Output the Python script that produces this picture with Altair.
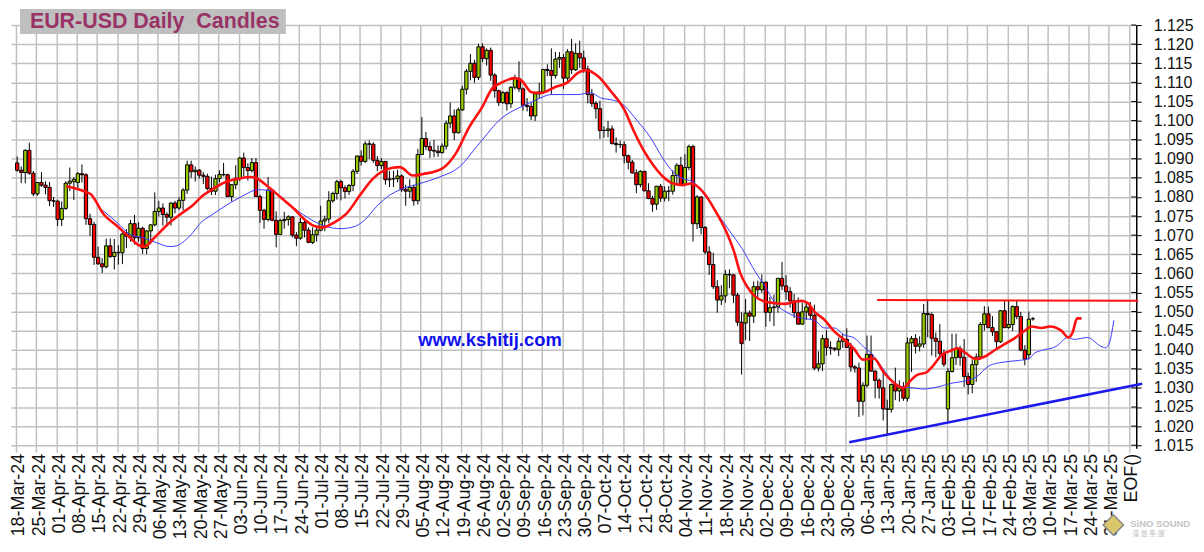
import altair as alt
import pandas as pd

TITLE = "EUR-USD Daily\u00a0\u00a0Candles"

week_labels = ["18-Mar-24","25-Mar-24","01-Apr-24","08-Apr-24","15-Apr-24","22-Apr-24","29-Apr-24",
 "06-May-24","13-May-24","20-May-24","27-May-24","03-Jun-24","10-Jun-24","17-Jun-24","24-Jun-24",
 "01-Jul-24","08-Jul-24","15-Jul-24","22-Jul-24","29-Jul-24","05-Aug-24","12-Aug-24","19-Aug-24",
 "26-Aug-24","02-Sep-24","09-Sep-24","16-Sep-24","23-Sep-24","30-Sep-24","07-Oct-24","14-Oct-24",
 "21-Oct-24","28-Oct-24","04-Nov-24","11-Nov-24","18-Nov-24","25-Nov-24","02-Dec-24","09-Dec-24",
 "16-Dec-24","23-Dec-24","30-Dec-24","06-Jan-25","13-Jan-25","20-Jan-25","27-Jan-25","03-Feb-25",
 "10-Feb-25","17-Feb-25","24-Feb-25","03-Mar-25","10-Mar-25","17-Mar-25","24-Mar-25","31-Mar-25","EOF()"]

# daily candles (one per weekday, 18-Mar-24 .. 04-Mar-25)
open_px = [
 1.0889,1.0870,1.0864,1.0922,1.0862, 1.0808,1.0838,1.0831,1.0825,1.0790,
 1.0789,1.0741,1.0770,1.0836,1.0840, 1.0838,1.0861,1.0858,1.0743,1.0728,
 1.0642,1.0625,1.0617,1.0672,1.0644, 1.0655,1.0654,1.0703,1.0697,1.0730,
 1.0693,1.0718,1.0665,1.0711,1.0727, 1.0762,1.0771,1.0754,1.0747,1.0784,
 1.0771,1.0791,1.0818,1.0884,1.0866, 1.0870,1.0857,1.0854,1.0822,1.0815,
 1.0848,1.0859,1.0858,1.0801,1.0832, 1.0849,1.0902,1.0877,1.0869,1.0890,
 1.0801,1.0765,1.0741,1.0818,1.0739, 1.0702,1.0738,1.0741,1.0748,1.0700,
 1.0692,1.0733,1.0713,1.0681,1.0701, 1.0713,1.0737,1.0742,1.0790,1.0809,
 1.0840,1.0824,1.0814,1.0830,1.0867, 1.0907,1.0893,1.0939,1.0938,1.0896,
 1.0882,1.0893,1.0845,1.0847,1.0848, 1.0855,1.0819,1.0815,1.0825,1.0790,
 1.0911,1.0953,1.0932,1.0922,1.0920, 1.0916,1.0933,1.0993,1.1012,1.0968,
 1.1028,1.1082,1.1129,1.1150,1.1113, 1.1193,1.1162,1.1184,1.1119,1.1078,
 1.1047,1.1073,1.1044,1.1087,1.1110, 1.1083,1.1040,1.1037,1.1012,1.1070,
 1.1075,1.1134,1.1131,1.1118,1.1161, 1.1165,1.1111,1.1180,1.1133,1.1176,
 1.1164,1.1135,1.1068,1.1045,1.1031, 1.0974,1.0974,1.0978,1.0940,1.0937,
 1.0937,1.0908,1.0891,1.0863,1.0832, 1.0867,1.0816,1.0796,1.0781,1.0828,
 1.0797,1.0815,1.0815,1.0856,1.0883, 1.0833,1.0877,1.0932,1.0730,1.0800,
 1.0720,1.0656,1.0623,1.0565,1.0530, 1.0541,1.0597,1.0596,1.0543,1.0472,
 1.0470,1.0496,1.0488,1.0565,1.0557, 1.0577,1.0498,1.0510,1.0512,1.0587,
 1.0567,1.0552,1.0528,1.0497,1.0467, 1.0499,1.0512,1.0490,1.0352,1.0363,
 1.0429,1.0406,1.0404,1.0401,1.0422, 1.0427,1.0406,1.0355,1.0352,1.0265,
 1.0307,1.0388,1.0344,1.0320,1.0300, 1.0245,1.0244,1.0309,1.0292,1.0300,
 1.0273,1.0418,1.0429,1.0409,1.0415, 1.0495,1.0492,1.0430,1.0422,1.0390,
 1.0245,1.0343,1.0379,1.0403,1.0380, 1.0330,1.0309,1.0361,1.0381,1.0466,
 1.0494,1.0458,1.0447,1.0421,1.0502, 1.0458,1.0466,1.0513,1.0487,1.0399,
 1.0387,1.0481]
high_px = [
 1.0906,1.0880,1.0925,1.0942,1.0868, 1.0838,1.0865,1.0841,1.0839,1.0800,
 1.0793,1.0788,1.0841,1.0877,1.0852, 1.0865,1.0885,1.0862,1.0756,1.0735,
 1.0670,1.0640,1.0691,1.0691,1.0690, 1.0674,1.0713,1.0716,1.0740,1.0753,
 1.0734,1.0722,1.0712,1.0728,1.0812, 1.0790,1.0783,1.0760,1.0786,1.0790,
 1.0799,1.0823,1.0895,1.0895,1.0880, 1.0873,1.0865,1.0861,1.0853,1.0858,
 1.0870,1.0889,1.0861,1.0834,1.0883, 1.0905,1.0916,1.0888,1.0902,1.0902,
 1.0806,1.0769,1.0852,1.0821,1.0762, 1.0743,1.0761,1.0752,1.0748,1.0708,
 1.0745,1.0739,1.0720,1.0720,1.0719, 1.0777,1.0751,1.0815,1.0814,1.0845,
 1.0845,1.0830,1.0834,1.0873,1.0909, 1.0922,1.0946,1.0948,1.0943,1.0907,
 1.0902,1.0894,1.0868,1.0869,1.0871, 1.0859,1.0832,1.0846,1.0832,1.0926,
 1.1009,1.0970,1.0945,1.0949,1.0935, 1.0940,1.1000,1.1047,1.1029,1.1034,
 1.1091,1.1135,1.1174,1.1159,1.1201, 1.1202,1.1189,1.1191,1.1124,1.1081,
 1.1077,1.1077,1.1090,1.1120,1.1155, 1.1087,1.1059,1.1046,1.1072,1.1099,
 1.1135,1.1147,1.1189,1.1180,1.1179, 1.1174,1.1187,1.1214,1.1202,1.1209,
 1.1183,1.1144,1.1083,1.1050,1.1052, 1.0985,1.0999,1.0987,1.0956,1.0947,
 1.0945,1.0911,1.0897,1.0872,1.0870, 1.0868,1.0836,1.0803,1.0829,1.0834,
 1.0828,1.0829,1.0870,1.0888,1.0905, 1.0912,1.0937,1.0937,1.0805,1.0802,
 1.0724,1.0671,1.0654,1.0582,1.0569, 1.0609,1.0610,1.0598,1.0549,1.0498,
 1.0533,1.0503,1.0579,1.0581,1.0597, 1.0578,1.0538,1.0544,1.0588,1.0630,
 1.0595,1.0564,1.0546,1.0537,1.0523, 1.0526,1.0525,1.0518,1.0396,1.0439,
 1.0451,1.0422,1.0406,1.0432,1.0443, 1.0456,1.0418,1.0360,1.0366,1.0315,
 1.0437,1.0437,1.0346,1.0325,1.0343, 1.0269,1.0312,1.0353,1.0320,1.0315,
 1.0432,1.0436,1.0441,1.0435,1.0520, 1.0533,1.0498,1.0445,1.0467,1.0400,
 1.0352,1.0442,1.0442,1.0410,1.0428, 1.0340,1.0375,1.0390,1.0472,1.0514,
 1.0513,1.0488,1.0449,1.0504,1.0528, 1.0528,1.0516,1.0528,1.0499,1.0412,
 1.0500,1.0486]
low_px = [
 1.0866,1.0836,1.0836,1.0858,1.0802, 1.0803,1.0826,1.0807,1.0776,1.0774,
 1.0724,1.0724,1.0766,1.0815,1.0792, 1.0820,1.0838,1.0727,1.0698,1.0622,
 1.0622,1.0601,1.0613,1.0640,1.0610, 1.0623,1.0624,1.0666,1.0683,1.0675,
 1.0682,1.0651,1.0650,1.0676,1.0723, 1.0749,1.0725,1.0723,1.0725,1.0757,
 1.0766,1.0765,1.0808,1.0850,1.0840, 1.0848,1.0834,1.0817,1.0805,1.0805,
 1.0838,1.0854,1.0800,1.0788,1.0820, 1.0841,1.0853,1.0843,1.0864,1.0800,
 1.0732,1.0717,1.0736,1.0736,1.0668, 1.0702,1.0717,1.0725,1.0694,1.0671,
 1.0688,1.0694,1.0679,1.0677,1.0683, 1.0710,1.0710,1.0731,1.0785,1.0793,
 1.0791,1.0796,1.0805,1.0815,1.0860, 1.0882,1.0889,1.0899,1.0889,1.0868,
 1.0873,1.0832,1.0826,1.0826,1.0838, 1.0813,1.0777,1.0797,1.0777,1.0780,
 1.0910,1.0923,1.0902,1.0904,1.0905, 1.0914,1.0924,1.0980,1.0949,1.0966,
 1.1025,1.1068,1.1105,1.1099,1.1106, 1.1153,1.1144,1.1104,1.1060,1.1038,
 1.1044,1.1026,1.1033,1.1081,1.1075, 1.1026,1.1024,1.1001,1.0999,1.1057,
 1.1070,1.1116,1.1068,1.1110,1.1138, 1.1083,1.1104,1.1122,1.1130,1.1138,
 1.1125,1.1045,1.1036,1.1005,1.0952, 1.0955,1.0956,1.0937,1.0916,1.0928,
 1.0888,1.0872,1.0861,1.0810,1.0825, 1.0815,1.0794,1.0761,1.0766,1.0787,
 1.0788,1.0789,1.0806,1.0834,1.0832, 1.0830,1.0870,1.0683,1.0716,1.0702,
 1.0650,1.0596,1.0559,1.0497,1.0517, 1.0523,1.0561,1.0522,1.0462,1.0335,
 1.0425,1.0423,1.0470,1.0537,1.0549, 1.0460,1.0474,1.0462,1.0497,1.0556,
 1.0531,1.0510,1.0483,1.0466,1.0465, 1.0478,1.0480,1.0346,1.0343,1.0344,
 1.0385,1.0387,1.0396,1.0383,1.0405, 1.0405,1.0342,1.0340,1.0224,1.0228,
 1.0301,1.0342,1.0273,1.0272,1.0215, 1.0177,1.0235,1.0268,1.0264,1.0266,
 1.0265,1.0342,1.0390,1.0396,1.0405, 1.0433,1.0385,1.0380,1.0380,1.0355,
 1.0211,1.0340,1.0360,1.0358,1.0302, 1.0283,1.0286,1.0316,1.0374,1.0450,
 1.0456,1.0436,1.0402,1.0418,1.0456, 1.0455,1.0449,1.0480,1.0396,1.0359,
 1.0375,1.0476]
close_px = [
 1.0870,1.0864,1.0922,1.0862,1.0808, 1.0838,1.0831,1.0825,1.0790,1.0789,
 1.0741,1.0770,1.0836,1.0841,1.0846, 1.0861,1.0858,1.0743,1.0728,1.0642,
 1.0625,1.0617,1.0672,1.0644,1.0655, 1.0654,1.0703,1.0697,1.0730,1.0693,
 1.0718,1.0665,1.0711,1.0727,1.0762, 1.0771,1.0754,1.0747,1.0784,1.0771,
 1.0791,1.0818,1.0884,1.0866,1.0870, 1.0857,1.0854,1.0822,1.0815,1.0848,
 1.0859,1.0858,1.0801,1.0832,1.0849, 1.0902,1.0877,1.0869,1.0890,1.0801,
 1.0765,1.0741,1.0818,1.0739,1.0702, 1.0738,1.0741,1.0748,1.0700,1.0692,
 1.0733,1.0713,1.0681,1.0701,1.0713, 1.0737,1.0742,1.0790,1.0809,1.0840,
 1.0824,1.0814,1.0830,1.0867,1.0907, 1.0893,1.0939,1.0938,1.0896,1.0882,
 1.0893,1.0845,1.0847,1.0848,1.0855, 1.0819,1.0815,1.0825,1.0790,1.0911,
 1.0953,1.0932,1.0922,1.0920,1.0916, 1.0933,1.0993,1.1012,1.0968,1.1028,
 1.1082,1.1129,1.1150,1.1113,1.1193, 1.1162,1.1184,1.1119,1.1078,1.1047,
 1.1073,1.1044,1.1087,1.1110,1.1083, 1.1040,1.1037,1.1012,1.1070,1.1075,
 1.1134,1.1131,1.1118,1.1161,1.1165, 1.1111,1.1180,1.1133,1.1176,1.1164,
 1.1135,1.1068,1.1045,1.1031,1.0974, 1.0974,1.0978,1.0940,1.0937,1.0937,
 1.0908,1.0891,1.0863,1.0832,1.0867, 1.0816,1.0796,1.0781,1.0828,1.0797,
 1.0815,1.0815,1.0856,1.0883,1.0833, 1.0877,1.0932,1.0730,1.0800,1.0720,
 1.0656,1.0623,1.0565,1.0530,1.0541, 1.0597,1.0596,1.0543,1.0472,1.0416,
 1.0496,1.0488,1.0565,1.0557,1.0577, 1.0498,1.0510,1.0512,1.0587,1.0567,
 1.0552,1.0528,1.0497,1.0467,1.0499, 1.0512,1.0490,1.0352,1.0363,1.0429,
 1.0406,1.0404,1.0401,1.0422,1.0427, 1.0406,1.0355,1.0352,1.0265,1.0307,
 1.0388,1.0344,1.0320,1.0300,1.0245, 1.0244,1.0309,1.0292,1.0300,1.0273,
 1.0418,1.0429,1.0409,1.0415,1.0495, 1.0492,1.0430,1.0422,1.0390,1.0362,
 1.0343,1.0379,1.0403,1.0380,1.0330, 1.0309,1.0361,1.0381,1.0466,1.0494,
 1.0458,1.0447,1.0421,1.0502,1.0458, 1.0466,1.0513,1.0487,1.0399,1.0375,
 1.0480,1.0481]

# moving averages (bar index, value)
red_ma_i = [12.1,16.5,18.2,21.4,24.7,27.9,30.4,31.5,33.6,37.7,40.9,43.4,45.8,48.2,51.5,54.8,57.6,58.8,
 62.1,65.3,68.6,71.0,73.4,75.5,78.3,81.6,84.8,88.1,90.5,92.5,94.6,97.8,100.3,105.1,108.4,111.7,114.9,
 117.3,119.8,123.0,124.7,127.1,129.5,132.8,136.0,138.5,140.5,143.4,146.6,149.9,152.3,154.8,157.2,159.6,
 162.1,164.5,166.5,169.8,172.6,175.1,177.1,178.7,180.4,182.4,184.8,187.3,189.7,192.1,193.8,195.4,197.0,
 199.5,201.9,204.3,206.8,209.0,211.7,214.1,216.5,218.9,220.6,222.2,224.7,226.3,228.7,230.4,232.4,234.4,
 236.9,239.3,241.7,244.2,246.6,249.0,250.7,253.1,255.2,258.0,259.8,260.8,261.9,263.0]
red_ma_v = [1.0828,1.0815,1.0807,1.0754,1.0724,1.0693,1.0672,1.0670,1.0690,1.0733,1.0759,1.0778,1.0803,1.0820,
 1.0839,1.0848,1.0852,1.0850,1.0826,1.0797,1.0767,1.0741,1.0724,1.0720,1.0733,1.0759,1.0806,1.0850,1.0868,
 1.0876,1.0878,1.0856,1.0860,1.0875,1.0914,1.0983,1.1035,1.1083,1.1100,1.1111,1.1104,1.1074,1.1072,1.1087,
 1.1100,1.1124,1.1132,1.1117,1.1078,1.1031,1.0974,1.0922,1.0883,1.0853,1.0835,1.0831,1.0835,1.0809,1.0762,
 1.0712,1.0658,1.0600,1.0565,1.0539,1.0526,1.0522,1.0520,1.0526,1.0528,1.0522,1.0500,1.0478,1.0448,1.0427,
 1.0402,1.0374,1.0377,1.0341,1.0315,1.0300,1.0317,1.0333,1.0341,1.0358,1.0389,1.0396,1.0404,1.0391,1.0376,
 1.0383,1.0400,1.0416,1.0431,1.0450,1.0461,1.0457,1.0461,1.0450,1.0432,1.0445,1.0482,1.0482]
blue_ma_i = [21.0,24.7,27.9,31.2,34.5,37.7,39.3,42.6,45.8,47.4,51.5,55.6,59.6,62.9,65.3,67.8,71.8,75.9,80.0,
 83.2,85.6,88.9,92.1,94.6,99.5,104.3,109.2,114.1,119.8,123.9,127.9,132.0,135.2,138.5,141.7,144.2,147.4,
 149.9,153.1,156.4,159.6,162.1,164.5,167.0,169.4,172.6,175.9,179.1,182.4,184.8,187.3,190.5,193.8,197.0,
 199.5,201.9,204.3,206.8,209.2,211.7,214.1,217.3,219.4,221.4,223.8,226.3,228.7,231.2,233.7,236.9,240.2,
 243.4,246.6,249.9,251.5,253.1,256.8,259.6,261.2,264.5,267.8,269.0,269.8,271.0]
blue_ma_v = [1.0766,1.0733,1.0702,1.0693,1.0680,1.0670,1.0672,1.0697,1.0737,1.0748,1.0777,1.0802,1.0819,
 1.0815,1.0800,1.0776,1.0746,1.0724,1.0717,1.0722,1.0737,1.0776,1.0805,1.0819,1.0835,1.0852,1.0878,1.0939,
 1.1007,1.1033,1.1052,1.1068,1.1068,1.1068,1.1073,1.1059,1.1053,1.1040,1.1001,1.0957,1.0900,1.0865,1.0848,
 1.0840,1.0811,1.0763,1.0713,1.0665,1.0604,1.0565,1.0522,1.0496,1.0483,1.0477,1.0457,1.0457,1.0439,1.0431,
 1.0407,1.0383,1.0348,1.0309,1.0302,1.0300,1.0297,1.0300,1.0306,1.0313,1.0317,1.0328,1.0358,1.0367,1.0371,
 1.0376,1.0392,1.0398,1.0409,1.0432,1.0427,1.0432,1.0409,1.0405,1.0415,1.0477]

# drawn lines: resistance (red) and support trend (blue)
resist_i = [212.5, 277.0]
resist_v = [1.0530, 1.0528]
trend_i = [205.6, 278.0]
trend_v = [1.0158, 1.0311]

y_ticks = [round(1.015 + 0.005 * k, 3) for k in range(23)]
x_ticks = [5 * w for w in range(len(week_labels))]

candles = pd.DataFrame({"i": list(range(len(open_px))), "o": open_px, "h": high_px,
                        "l": low_px, "c": close_px})
red_df = pd.DataFrame({"i": red_ma_i, "v": red_ma_v})
blue_df = pd.DataFrame({"i": blue_ma_i, "v": blue_ma_v})
res_df = pd.DataFrame({"i": resist_i, "v": resist_v})
trd_df = pd.DataFrame({"i": trend_i, "v": trend_v})
ytick_df = pd.DataFrame({"v": y_ticks})

FONT = "Liberation Sans"
GRID = "#c0c0c0"
label_arr = "[" + ",".join("'%s'" % s for s in week_labels) + "]"

x_axis = alt.Axis(values=x_ticks, labelExpr=label_arr + "[round(datum.value/5)]", labelAngle=270,
                  labelAlign="right", labelBaseline="middle", labelFont=FONT, labelFontSize=18,
                  labelColor="#111111", labelPadding=1, labelOffset=3, labelOverlap=False,
                  labelBound=False, grid=True,
                  gridColor=GRID, gridWidth=1.5, tickColor=GRID, tickWidth=1.5, tickSize=4,
                  domain=False, title=None)
y_axis = alt.Axis(orient="right", values=y_ticks, format=".3f", labelFont=FONT, labelFontSize=16,
                  labelColor="#111111", labelPadding=12, labelOverlap=False, grid=True,
                  gridColor=GRID, gridWidth=1.5, tickColor="black", tickSize=5, tickWidth=1,
                  domainColor="black", domainWidth=1.5, title=None)
xs = alt.Scale(domain=[0, 275.6], nice=False, zero=False)
ys = alt.Scale(domain=[1.0142, 1.125], nice=False, zero=False)

X = alt.X("xi:Q", scale=xs, axis=x_axis)

base = alt.Chart(candles).transform_calculate(xi="datum.i + 0.3")
wicks = base.mark_rule(color="black", strokeWidth=1).encode(
    x=X, y=alt.Y("l:Q", scale=ys, axis=y_axis), y2="h:Q")
bodies = base.mark_bar(size=3.3, stroke="black", strokeWidth=1).encode(
    x=X, y=alt.Y("o:Q", scale=ys, axis=y_axis), y2="c:Q",
    color=alt.condition("datum.c >= datum.o", alt.value("#99cc00"), alt.value("#ff0000")))

def line_layer(df, color, width):
    return alt.Chart(df).transform_calculate(xi="datum.i + 0.3").mark_line(
        color=color, strokeWidth=width, interpolate="monotone", clip=False).encode(
        x=X, y=alt.Y("v:Q", scale=ys, axis=y_axis))

blue_line = line_layer(blue_df, "#3a3aff", 1)
red_line = line_layer(red_df, "#ff1010", 2.6)
res_line = line_layer(res_df, "#ff1010", 2)
trd_line = line_layer(trd_df, "#1a1aee", 2.6)

# inner half of the y-axis ticks (the reference's ticks cross the axis line)
inner_ticks = alt.Chart(ytick_df).mark_rule(color="black", strokeWidth=1).encode(
    y=alt.Y("v:Q", scale=ys, axis=y_axis), x=alt.value(1125), x2=alt.value(1130))

one = alt.Chart(pd.DataFrame({"t": [TITLE]}))
title_box = one.mark_rect(color="#bfbfbf").encode(
    x=alt.value(9), x2=alt.value(276), y=alt.value(-16), y2=alt.value(9))
title_txt = one.mark_text(align="left", baseline="alphabetic", font=FONT, fontSize=21.5,
                          fontWeight="bold", color="#993366").encode(
    x=alt.value(19), y=alt.value(3), text="t:N")

site = alt.Chart(pd.DataFrame({"t": ["www.kshitij.com"]})).mark_text(
    align="left", baseline="middle", font=FONT, fontSize=18.5, fontWeight="bold",
    color="#1010ee").encode(x=alt.value(409), y=alt.value(316), text="t:N")

wm1 = alt.Chart(pd.DataFrame({"t": ["SiNO SOUND"]})).mark_text(
    align="left", baseline="middle", font=FONT, fontSize=9.5, fontWeight="bold",
    color="#c4c4c4").encode(x=alt.value(1124), y=alt.value(501), text="t:N")
wm2 = alt.Chart(pd.DataFrame({"t": ["漢  聲  集  團"]})).mark_text(
    align="left", baseline="middle", font="Noto Sans CJK TC", fontSize=7,
    color="#c4c4c4").encode(x=alt.value(1126), y=alt.value(511), text="t:N")
logo = alt.Chart(pd.DataFrame({"t": ["logo"]})).mark_point(
    shape="diamond", filled=True, size=420, color="#d9c76a", stroke="#8a8a8a",
    strokeWidth=1.5, opacity=1).encode(x=alt.value(1107), y=alt.value(502))

chart = alt.layer(wicks, bodies, blue_line, red_line, res_line, trd_line, inner_ticks,
                  title_box, title_txt, site, wm1, wm2, logo).properties(
    width=1130, height=425,
    padding={"left": 3, "top": 16, "right": 60, "bottom": 95},
    autosize=alt.AutoSizeParams(type="none"),
    background="white",
).configure_view(strokeWidth=0)

chart.save("out.html", embed_options={"renderer": "svg", "actions": False})
